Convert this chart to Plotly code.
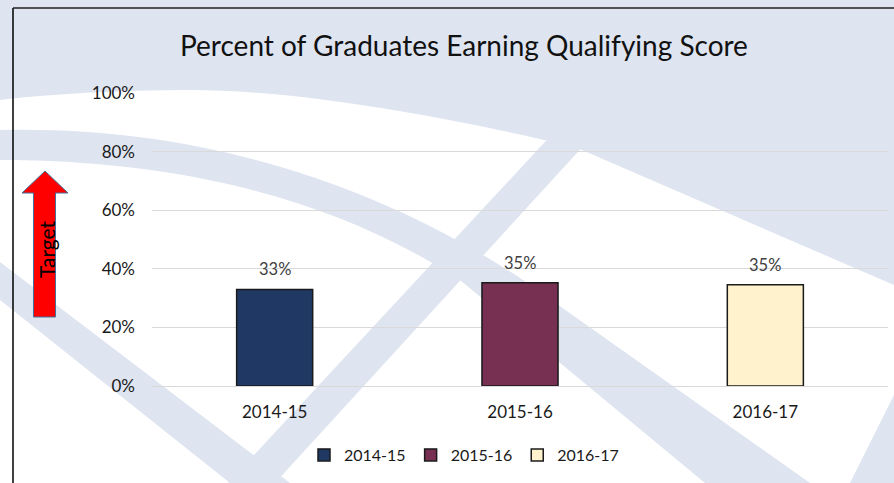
import plotly.graph_objects as go

# ---- data ----
categories = ["2014-15", "2015-16", "2016-17"]
values = [0.33, 0.353, 0.346]
colors = ["#203864", "#772f52", "#fff2cc"]
y_ticks = [0, 0.2, 0.4, 0.6, 0.8, 1.0]
title_text = "Percent of Graduates Earning Qualifying Score"
target_text = "Target"

W, H = 894, 483
FONT = "Lato, 'Open Sans', sans-serif"


def px(x):
    return x / W


def py(y):
    return 1 - y / H


def path(cmds):
    """cmds: list of (letter, [x1,y1,x2,y2,...]) in pixel coordinates."""
    out = []
    for c, pts in cmds:
        s = c
        if pts:
            coords = []
            for i in range(0, len(pts), 2):
                coords.append(f"{px(pts[i]):.5f},{py(pts[i+1]):.5f}")
            s += " " + " ".join(coords)
        out.append(s)
    return " ".join(out)


fig = go.Figure()
for cat, val, col in zip(categories, values, colors):
    fig.add_trace(go.Bar(
        x=[cat], y=[val], name=cat,
        marker=dict(color=col, line=dict(color="#1a1a1a", width=1.5)),
        width=0.31,
    ))

bg = "#dee4f0"
shapes = []
# top tinted region
shapes.append(dict(type="path", xref="paper", yref="paper", layer="below",
                   fillcolor=bg, line=dict(width=0),
                   path=path([("M", [0, 0]), ("L", [894, 0]), ("L", [894, 285]),
                              ("L", [575, 147]),
                              ("C", [470, 122, 300, 88, 180, 90]),
                              ("C", [100, 91, 40, 95, 0, 100]), ("Z", [])])))
# curved band
shapes.append(dict(type="path", xref="paper", yref="paper", layer="below",
                   fillcolor=bg, line=dict(width=0),
                   path=path([("M", [0, 130]),
                              ("C", [200, 125, 380, 185, 523, 280]),
                              ("L", [810, 483]), ("L", [705, 483]), ("L", [460, 280]),
                              ("C", [330, 195, 170, 160, 0, 160]), ("Z", [])])))
# upward diagonal band
shapes.append(dict(type="path", xref="paper", yref="paper", layer="below",
                   fillcolor=bg, line=dict(width=0),
                   path=path([("M", [556, 130]), ("L", [598, 130]), ("L", [275, 483]),
                              ("L", [228, 483]), ("Z", [])])))
# downward diagonal band
shapes.append(dict(type="path", xref="paper", yref="paper", layer="below",
                   fillcolor=bg, line=dict(width=0),
                   path=path([("M", [0, 262]), ("L", [290, 483]), ("L", [230, 483]),
                              ("L", [0, 300]), ("Z", [])])))
# bottom-right corner band
shapes.append(dict(type="path", xref="paper", yref="paper", layer="below",
                   fillcolor=bg, line=dict(width=0),
                   path=path([("M", [850, 483]), ("L", [894, 483]), ("L", [894, 395]), ("Z", [])])))
# frame lines
shapes.append(dict(type="line", xref="paper", yref="paper", layer="above",
                   x0=px(13), x1=px(13), y0=py(8), y1=py(483),
                   line=dict(color="#000000", width=1.5)))
shapes.append(dict(type="line", xref="paper", yref="paper", layer="above",
                   x0=px(13), x1=px(894), y0=py(8), y1=py(8),
                   line=dict(color="#222222", width=1.5)))
# red target arrow
shapes.append(dict(type="path", xref="paper", yref="paper", layer="above",
                   fillcolor="#ff0000", line=dict(color="#41719c", width=1),
                   path=path([("M", [45, 171]), ("L", [68, 193]), ("L", [55.5, 193]),
                              ("L", [55.5, 317]), ("L", [33.5, 317]), ("L", [33.5, 193]),
                              ("L", [22, 193]), ("Z", [])])))

annotations = [
    dict(text=title_text, xref="paper", yref="paper", x=px(464), y=py(45),
         showarrow=False, font=dict(family=FONT, size=28, color="#111111"),
         xanchor="center", yanchor="middle"),
    dict(text=target_text, xref="paper", yref="paper", x=px(46), y=py(249),
         showarrow=False, textangle=-90, font=dict(family=FONT, size=21, color="#000000"),
         xanchor="center", yanchor="middle"),
]
for cat, val in zip(categories, values):
    annotations.append(dict(text=f"{round(val * 100):d}%", x=cat, y=val,
                            xref="x", yref="y", showarrow=False, yshift=20,
                            font=dict(family=FONT, size=16.5, color="#404040"),
                            xanchor="center", yanchor="middle"))

fig.update_layout(
    width=W, height=H,
    margin=dict(l=0, r=0, t=0, b=0),
    paper_bgcolor="white", plot_bgcolor="rgba(0,0,0,0)",
    barmode="overlay",
    font=dict(family=FONT, size=16, color="#1a1a1a"),
    shapes=shapes, annotations=annotations,
    showlegend=True,
    legend=dict(orientation="h", x=px(464), y=py(455), xanchor="center", yanchor="middle",
                bgcolor="rgba(0,0,0,0)", font=dict(family=FONT, size=16, color="#1a1a1a"),
                itemwidth=30, traceorder="normal"),
    xaxis=dict(type="category", categoryorder="array", categoryarray=categories,
               range=[-0.5, 2.5], domain=[px(152), px(888)],
               showgrid=False, showline=False, zeroline=False, ticks="",
               tickfont=dict(family=FONT, size=17, color="#1a1a1a"),
               ticklabelstandoff=14, automargin=False, fixedrange=True),
    yaxis=dict(range=[0, 1], domain=[py(386), py(93.3)],
               tickvals=y_ticks, tickformat=".0%",
               showgrid=True, gridcolor="#d9d9d9", gridwidth=1,
               zeroline=True, zerolinecolor="#d9d9d9", zerolinewidth=1,
               showline=False, ticks="",
               tickfont=dict(family=FONT, size=17, color="#1a1a1a"),
               ticklabelstandoff=16, automargin=False, fixedrange=True),
)

fig.write_html("out.html", config={"displayModeBar": False},
               post_script="document.body.style.margin='0';")
